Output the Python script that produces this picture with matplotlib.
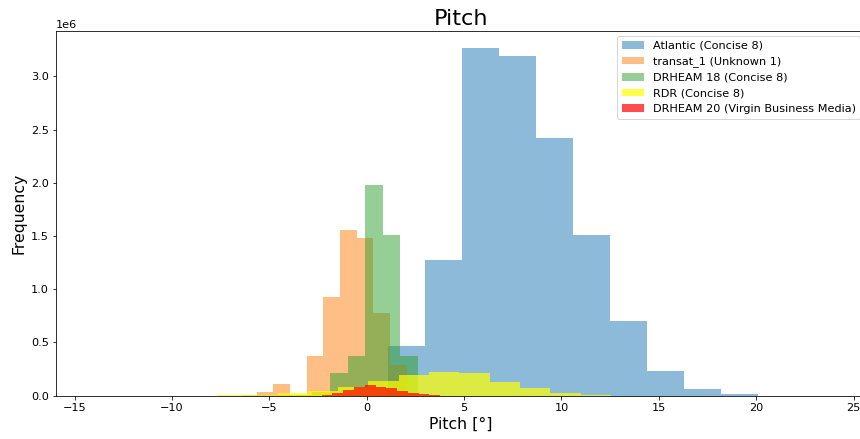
import numpy as np
import matplotlib
matplotlib.use("Agg")
import matplotlib.pyplot as plt

# series: (label, first bin edge, bin width, counts)
labels = ["Atlantic (Concise 8)", "transat_1 (Unknown 1)", "DRHEAM 18 (Concise 8)",
          "RDR (Concise 8)", "DRHEAM 20 (Virgin Business Media)"]

atlantic_start, atlantic_width = 1.094, 1.90
atlantic = [0.47e6, 1.27e6, 3.265e6, 3.19e6, 2.42e6, 1.51e6, 0.70e6, 0.227e6, 0.060e6, 0.012e6]

transat_start, transat_width = -5.65, 0.856
transat = [0.03e6, 0.11e6, 0.005e6, 0.37e6, 0.93e6, 1.56e6, 1.48e6, 0.78e6, 0.29e6, 0.02e6]

drheam18_start, drheam18_width = -6.385, 0.90
drheam18 = [0.001e6, 0.002e6, 0.005e6, 0.01e6, 0.03e6, 0.215e6, 0.37e6, 1.98e6, 1.51e6, 0.37e6]

rdr_start, rdr_width = -7.69, 1.556
rdr = [0.005e6, 0.01e6, 0.02e6, 0.04e6, 0.085e6, 0.14e6, 0.19e6, 0.225e6, 0.21e6,
       0.13e6, 0.07e6, 0.02e6, 0.008e6]

drheam20_start, drheam20_width = -2.31, 0.553
drheam20 = [0.004e6, 0.025e6, 0.055e6, 0.08e6, 0.097e6, 0.085e6, 0.068e6, 0.046e6,
            0.028e6, 0.017e6, 0.008e6]

series = [
    (atlantic_start, atlantic_width, atlantic, "tab:blue", 0.5),
    (transat_start, transat_width, transat, "tab:orange", 0.5),
    (drheam18_start, drheam18_width, drheam18, "tab:green", 0.5),
    (rdr_start, rdr_width, rdr, "yellow", 0.7),
    (drheam20_start, drheam20_width, drheam20, "red", 0.7),
]

plt.rcParams["font.size"] = 11.2

fig = plt.figure(figsize=(860 / 72, 439 / 72), dpi=72)
ax = fig.add_axes([55.7 / 860, 43.4 / 439, (866 - 55.7) / 860, 364.9 / 439])

for (start, width, counts, color, alpha), label in zip(series, labels):
    edges = start + width * np.arange(len(counts) + 1)
    ax.hist(edges[:-1], bins=edges, weights=counts, color=color, alpha=alpha, label=label)

ax.set_xlim(-15.97, 25.64)
ax.set_ylim(0, 3.265e6 * 1.05)
ax.set_title("Pitch", fontsize=22.4)
ax.set_xlabel("Pitch [°]", fontsize=15.7)
ax.set_ylabel("Frequency", fontsize=15.7)
ax.legend(loc="upper right")

fig.savefig("out.png", dpi=72)
